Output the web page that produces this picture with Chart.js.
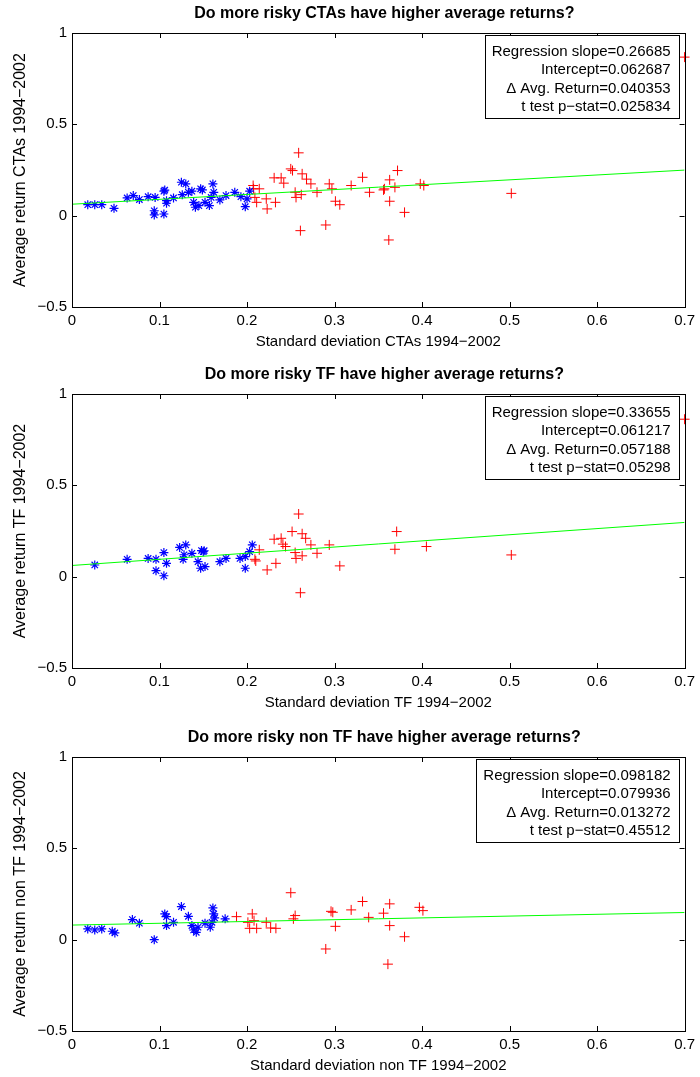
<!DOCTYPE html>
<html>
<head>
<meta charset="utf-8">
<script src="https://cdn.jsdelivr.net/npm/chart.js@4.4.1/dist/chart.umd.min.js"></script>
<style>
  body { margin: 0; background: #fff; width: 700px; height: 1077px; overflow: hidden; position: relative; }
  canvas { position: absolute; left: 0; }
</style>
</head>
<body>
<canvas id="cta" width="700" height="352" style="top:0px"></canvas>
<canvas id="tf" width="700" height="352" style="top:361px"></canvas>
<canvas id="nontf" width="700" height="352" style="top:724px"></canvas>
<script>
'use strict';

const xTicks = [0, 0.1, 0.2, 0.3, 0.4, 0.5, 0.6, 0.7];
const yTicks = [-0.5, 0, 0.5, 1];

// all CTAs
const ctaLowX = [0.018, 0.026, 0.034, 0.048, 0.063, 0.070, 0.077, 0.087, 0.095, 0.094, 0.094, 0.105, 0.105, 0.106, 0.108, 0.108, 0.116, 0.125, 0.130, 0.126, 0.133, 0.137, 0.139, 0.141, 0.147, 0.149, 0.145, 0.152, 0.157, 0.161, 0.162, 0.159, 0.169, 0.176, 0.186, 0.193, 0.198, 0.200, 0.203];
const ctaLowY = [0.060, 0.060, 0.060, 0.040, 0.097, 0.110, 0.088, 0.104, 0.100, 0.027, 0.004, 0.009, 0.134, 0.140, 0.082, 0.068, 0.097, 0.183, 0.174, 0.115, 0.128, 0.134, 0.073, 0.046, 0.147, 0.141, 0.055, 0.073, 0.055, 0.174, 0.128, 0.100, 0.086, 0.110, 0.128, 0.104, 0.049, 0.092, 0.134];
const ctaHighX = [0.207, 0.209, 0.2075, 0.214, 0.211, 0.222, 0.223, 0.2325, 0.231, 0.239, 0.242, 0.250, 0.252, 0.259, 0.263, 0.268, 0.273, 0.255, 0.256, 0.262, 0.261, 0.280, 0.290, 0.294, 0.297, 0.301, 0.306, 0.319, 0.332, 0.340, 0.357, 0.372, 0.363, 0.356, 0.369, 0.363, 0.380, 0.362, 0.398, 0.402, 0.502, 0.700];
const ctaHighY = [0.165, 0.100, 0.147, 0.147, 0.073, 0.092, 0.037, 0.073, 0.207, 0.207, 0.178, 0.256, 0.247, 0.344, 0.229, 0.200, 0.174, 0.128, 0.100, 0.115, -0.082, 0.128, -0.051, 0.174, 0.147, 0.079, 0.060, 0.165, 0.210, 0.128, 0.147, 0.247, 0.196, 0.141, 0.155, 0.079, 0.018, -0.133, 0.174, 0.165, 0.122, 0.868];
const ctaSlope = 0.26685;
const ctaIntercept = 0.062687;
const ctaStats = ['Regression slope=0.26685', 'Intercept=0.062687', '\u0394 Avg. Return=0.040353', 't test p\u2212stat=0.025834'];

// trend followers
const tfLowX = [0.026, 0.063, 0.087, 0.096, 0.096, 0.105, 0.108, 0.105, 0.123, 0.130, 0.128, 0.127, 0.137, 0.144, 0.148, 0.150, 0.151, 0.147, 0.152, 0.169, 0.176, 0.192, 0.198, 0.198, 0.203, 0.206];
const tfLowY = [0.064, 0.095, 0.100, 0.095, 0.033, 0.005, 0.073, 0.132, 0.160, 0.174, 0.120, 0.095, 0.128, 0.082, 0.143, 0.137, 0.142, 0.046, 0.055, 0.082, 0.100, 0.100, 0.046, 0.110, 0.137, 0.174];
const tfHighX = [0.209, 0.214, 0.210, 0.223, 0.233, 0.231, 0.239, 0.241, 0.244, 0.2515, 0.259, 0.263, 0.267, 0.273, 0.255, 0.256, 0.263, 0.261, 0.280, 0.294, 0.306, 0.371, 0.369, 0.405, 0.502, 0.700];
const tfHighY = [0.095, 0.147, 0.086, 0.037, 0.073, 0.205, 0.210, 0.178, 0.165, 0.247, 0.343, 0.235, 0.210, 0.174, 0.132, 0.100, 0.114, -0.088, 0.128, 0.174, 0.059, 0.247, 0.150, 0.165, 0.119, 0.862];
const tfSlope = 0.33655;
const tfIntercept = 0.061217;
const tfStats = ['Regression slope=0.33655', 'Intercept=0.061217', '\u0394 Avg. Return=0.057188', 't test p\u2212stat=0.05298'];

// non trend followers
const ntfLowX = [0.018, 0.026, 0.034, 0.046, 0.049, 0.069, 0.077, 0.094, 0.106, 0.108, 0.108, 0.116, 0.125, 0.133, 0.137, 0.139, 0.142, 0.144, 0.152, 0.158, 0.161, 0.162, 0.163, 0.160, 0.175];
const ntfLowY = [0.059, 0.053, 0.059, 0.046, 0.037, 0.110, 0.090, 0.000, 0.141, 0.126, 0.077, 0.095, 0.181, 0.128, 0.077, 0.053, 0.040, 0.068, 0.090, 0.068, 0.174, 0.141, 0.119, 0.095, 0.114];
const ntfHighX = [0.188, 0.201, 0.206, 0.203, 0.211, 0.208, 0.222, 0.227, 0.233, 0.250, 0.255, 0.253, 0.290, 0.296, 0.298, 0.301, 0.319, 0.332, 0.339, 0.356, 0.363, 0.363, 0.380, 0.361, 0.397, 0.401];
const ntfHighY = [0.126, 0.095, 0.141, 0.062, 0.062, 0.104, 0.095, 0.064, 0.062, 0.257, 0.132, 0.114, -0.051, 0.155, 0.150, 0.073, 0.163, 0.209, 0.122, 0.145, 0.196, 0.077, 0.016, -0.134, 0.177, 0.159];
const ntfSlope = 0.098182;
const ntfIntercept = 0.079936;
const ntfStats = ['Regression slope=0.098182', 'Intercept=0.079936', '\u0394 Avg. Return=0.013272', 't test p\u2212stat=0.45512'];

const FONT = "'Liberation Sans', Arial, Helvetica, sans-serif";
Chart.defaults.font.family = FONT;
Chart.defaults.color = '#000';

function fmt(v) {
    return String(Number(v.toFixed(2))).replace('-', '\u2212');
}

function toPoints(xs, ys) {
    return xs.map((x, i) => ({ x: x, y: ys[i] }));
}

// box, inward ticks on all four sides, title and the stats box
const axesPlugin = {
    id: 'matlabAxes',
    afterDatasetsDraw(chart, args, opts) {
        const ctx = chart.ctx;
        const a = chart.chartArea;
        const xs = chart.scales.x;
        const ys = chart.scales.y;
        ctx.save();
        ctx.strokeStyle = '#000';
        ctx.lineWidth = 1;
        ctx.beginPath();
        xs.ticks.forEach(t => {
            let px = Math.round(xs.getPixelForValue(t.value)) + 0.5;
            ctx.moveTo(px, a.bottom); ctx.lineTo(px, a.bottom - 5);
            ctx.moveTo(px, a.top); ctx.lineTo(px, a.top + 5);
        });
        ys.ticks.forEach(t => {
            let py = Math.round(ys.getPixelForValue(t.value)) + 0.5;
            ctx.moveTo(a.left, py); ctx.lineTo(a.left + 5, py);
            ctx.moveTo(a.right, py); ctx.lineTo(a.right - 5, py);
        });
        ctx.stroke();
        ctx.strokeRect(Math.round(a.left) + 0.5, Math.round(a.top) + 0.5,
            Math.round(a.right - a.left), Math.round(a.bottom - a.top));

        // title
        ctx.fillStyle = '#000';
        ctx.font = 'bold 16px ' + FONT;
        ctx.textAlign = 'center';
        ctx.textBaseline = 'middle';
        ctx.fillText(opts.title, (a.left + a.right) / 2 + 6, 14);

        // stats box
        ctx.font = '15px ' + FONT;
        let maxW = 0;
        opts.stats.forEach(s => { maxW = Math.max(maxW, ctx.measureText(s).width); });
        let textRight = a.right - 14;
        let boxRight = Math.round(a.right - 6) + 0.5;
        let boxLeft = Math.round(textRight - maxW - 7) + 0.5;
        let boxTop = Math.round(a.top + 2) + 0.5;
        ctx.fillStyle = '#fff';
        ctx.fillRect(boxLeft, boxTop, boxRight - boxLeft, 83);
        ctx.strokeRect(boxLeft, boxTop, boxRight - boxLeft, 83);
        ctx.fillStyle = '#000';
        ctx.textAlign = 'right';
        opts.stats.forEach((s, i) => {
            ctx.fillText(s, textRight, a.top + 19 + i * 18.3);
        });
        ctx.restore();
    }
};

function renderChart(id, lowX, lowY, highX, highY, slope, intercept, stats, title, xTitle, yTitle) {
    let x0 = xTicks[0];
    let x1 = xTicks[xTicks.length - 1];
    new Chart(document.getElementById(id), {
        type: 'scatter',
        data: {
            datasets: [{
                type: 'line',
                data: [{ x: x0, y: intercept + slope * x0 }, { x: x1, y: intercept + slope * x1 }],
                borderColor: '#00ff00',
                borderWidth: 1,
                pointRadius: 0,
                fill: false
            }, {
                data: toPoints(lowX, lowY),
                pointStyle: 'star',
                pointRadius: 4.5,
                borderColor: '#0000ff',
                backgroundColor: '#0000ff',
                borderWidth: 1.2,
                clip: false
            }, {
                data: toPoints(highX, highY),
                pointStyle: 'cross',
                pointRadius: 5,
                borderColor: '#ff0000',
                backgroundColor: '#ff0000',
                borderWidth: 1,
                clip: false
            }]
        },
        options: {
            responsive: false,
            animation: false,
            layout: { padding: { top: 33, right: 12, left: 0, bottom: 0 } },
            plugins: {
                legend: { display: false },
                tooltip: { enabled: false },
                matlabAxes: { title: title, stats: stats }
            },
            scales: {
                x: {
                    type: 'linear',
                    min: x0,
                    max: x1,
                    afterBuildTicks: s => { s.ticks = xTicks.map(v => ({ value: v })); },
                    afterFit: s => { s.height = 45; },
                    grid: { display: false, drawTicks: false },
                    border: { display: false },
                    ticks: { font: { size: 15 }, padding: 5, maxRotation: 0, autoSkip: false, callback: fmt },
                    title: { display: true, text: xTitle, font: { size: 15 }, padding: { top: 0, bottom: 1 } }
                },
                y: {
                    type: 'linear',
                    min: yTicks[0],
                    max: yTicks[yTicks.length - 1],
                    afterBuildTicks: s => { s.ticks = yTicks.map(v => ({ value: v })); },
                    afterFit: s => { s.width = 72; },
                    grid: { display: false, drawTicks: false },
                    border: { display: false },
                    ticks: { font: { size: 15 }, padding: 5, autoSkip: false, callback: fmt },
                    title: { display: true, text: yTitle, font: { size: 16 }, padding: { top: 11, bottom: 0 } }
                }
            }
        },
        plugins: [axesPlugin]
    });
}

renderChart('cta', ctaLowX, ctaLowY, ctaHighX, ctaHighY, ctaSlope, ctaIntercept, ctaStats,
    'Do more risky CTAs have higher average returns?', 'Standard deviation CTAs 1994\u22122002', 'Average return CTAs 1994\u22122002');
renderChart('tf', tfLowX, tfLowY, tfHighX, tfHighY, tfSlope, tfIntercept, tfStats,
    'Do more risky TF have higher average returns?', 'Standard deviation TF 1994\u22122002', 'Average return TF 1994\u22122002');
renderChart('nontf', ntfLowX, ntfLowY, ntfHighX, ntfHighY, ntfSlope, ntfIntercept, ntfStats,
    'Do more risky non TF have higher average returns?', 'Standard deviation non TF 1994\u22122002', 'Average return non TF 1994\u22122002');
</script>
</body>
</html>
